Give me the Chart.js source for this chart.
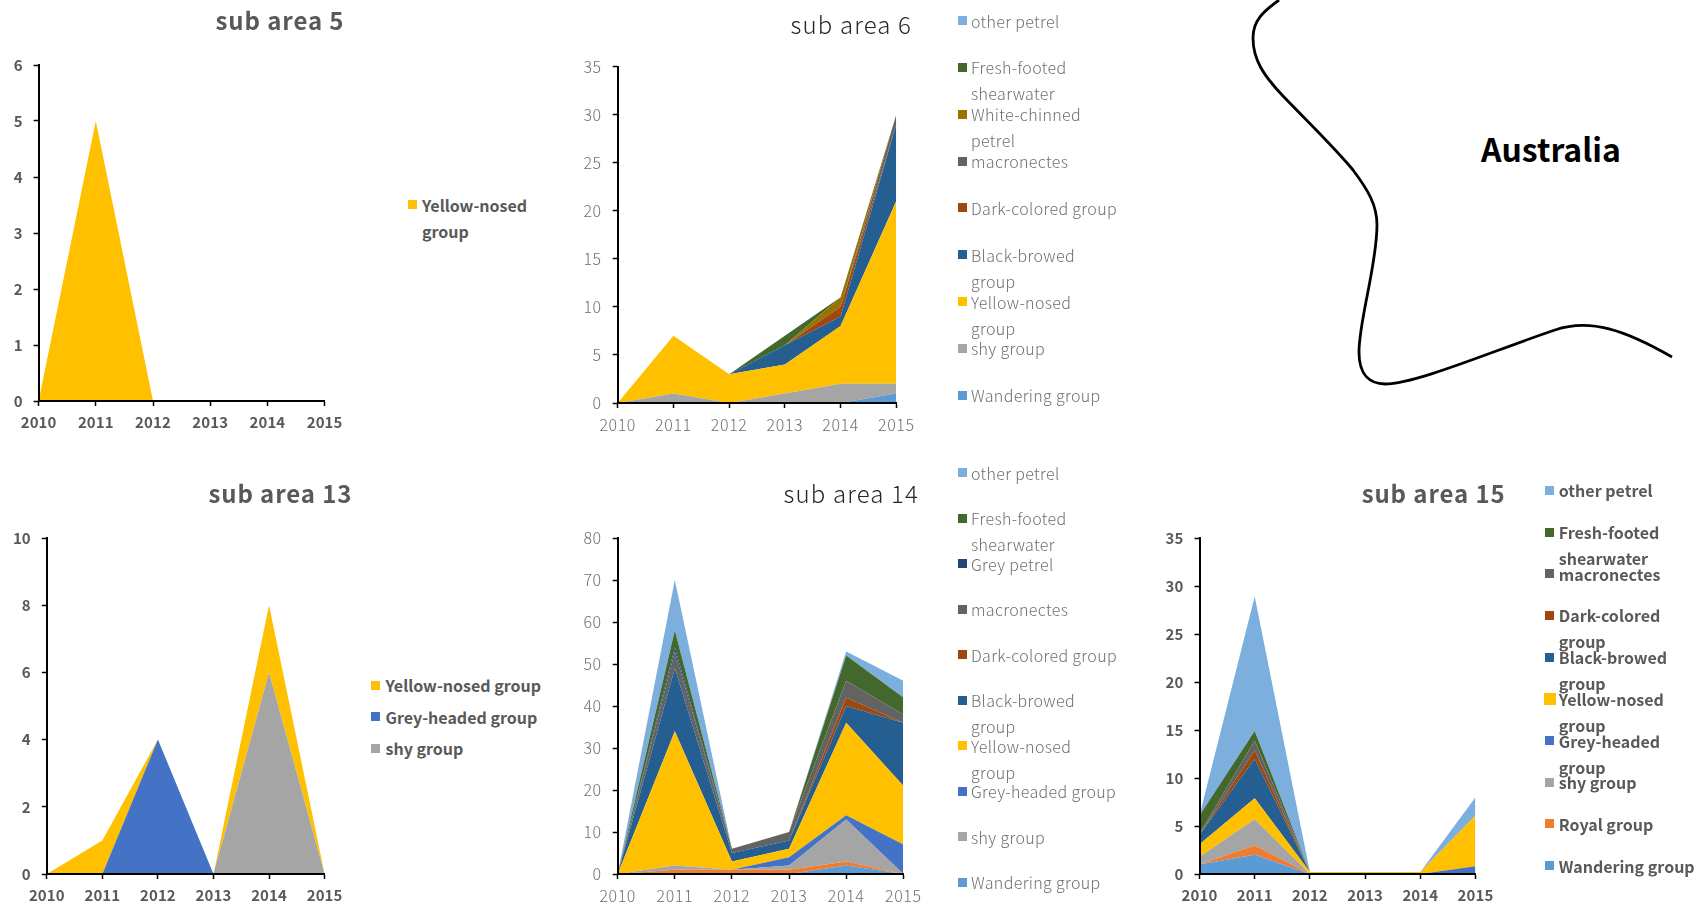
<!DOCTYPE html>
<html>
<head>
<meta charset="utf-8">
<title>Seabird bycatch by sub area</title>
<script src="https://cdn.jsdelivr.net/npm/chart.js@4"></script>
<style>
    html, body { margin: 0; background: #fff; }
    #page { position: relative; width: 1696px; height: 909px; overflow: hidden; }
    #page canvas { position: absolute; }
    .swatch { position: absolute; }
    .legend-text { position: absolute; white-space: nowrap; }
    .chart-title { position: absolute; white-space: nowrap; transform: translate(-50%, -50%); }
    #coast { position: absolute; left: 0; top: 0; }
    #place {
        position: absolute; left: 1481px; top: 121px;
        font: 700 32px/54px "Noto Sans CJK JP"; color: #000;
    }
</style>
</head>
<body>
<div id="page">
    <svg id="coast" width="1696" height="909">
        <path d="M1279,0 C1264,11 1253,20 1253,38 C1253,60 1264,76 1283,96 C1308,122 1335,148 1353,170 C1368,190 1377,205 1377,225 C1377,265 1359,320 1359,352 C1359,375 1370,384 1385,384 C1416,384 1495,350 1555,330 C1590,318 1625,330 1672,357"
              fill="none" stroke="#000" stroke-width="2.8"/>
    </svg>
    <div id="place">Australia</div>
</div>
<script>
    const years = ['2010', '2011', '2012', '2013', '2014', '2015'];

    // sub area 5
    const a5Yellow = [0, 5, 0, 0, 0, 0];

    // sub area 6
    const a6Wandering = [0, 0, 0, 0, 0, 1];
    const a6Shy = [0, 1, 0, 1, 2, 1];
    const a6Yellow = [0, 6, 3, 3, 6, 19];
    const a6Black = [0, 0, 0, 2, 1, 8];
    const a6Dark = [0, 0, 0, 0, 1, 0];
    const a6Macro = [0, 0, 0, 0, 0, 1];
    const a6White = [0, 0, 0, 0, 1, 0];
    const a6Fresh = [0, 0, 0, 1, 0, 0];
    const a6Other = [0, 0, 0, 0, 0, 0];

    // sub area 13
    const a13Shy = [0, 0, 0, 0, 6, 0];
    const a13Grey = [0, 0, 4, 0, 0, 0];
    const a13Yellow = [0, 1, 0, 0, 2, 0];

    // sub area 14
    const a14Wandering = [0, 0, 0, 0, 2, 0];
    const a14Royal = [0, 1, 1, 1, 1, 0];
    const a14Shy = [0, 1, 0, 1, 10, 0];
    const a14Grey = [0, 0, 0, 2, 1, 7];
    const a14Yellow = [0, 32, 2, 2, 22, 14];
    const a14Black = [0, 15, 2, 2, 4, 15];
    const a14Dark = [0, 0, 0, 0, 2, 0];
    const a14Macro = [0, 4, 1, 2, 4, 2];
    const a14GreyPetrel = [0, 1, 0, 0, 0, 0];
    const a14Fresh = [0, 4, 0, 0, 6, 4];
    const a14Other = [0, 12, 0, 0, 1, 4];

    // sub area 15
    const a15Wandering = [1, 2, 0, 0, 0, 0];
    const a15Royal = [0, 1, 0, 0, 0, 0];
    const a15Shy = [0.8, 2.7, 0, 0, 0, 0];
    const a15Grey = [0, 0, 0, 0, 0, 0.8];
    const a15Yellow = [1.3, 2.2, 0.2, 0.2, 0.2, 5.3];
    const a15Black = [1, 4.1, 0, 0, 0, 0];
    const a15Dark = [0, 0.9, 0, 0, 0, 0];
    const a15Macro = [0.1, 1, 0, 0, 0, 0];
    const a15Fresh = [1.9, 1, 0, 0, 0, 0];
    const a15Other = [0, 14, 0, 0, 0, 1.9];

    const colors = {
        'Wandering group': '#5B9BD5',
        'Royal group': '#ED7D31',
        'shy group': '#A5A5A5',
        'Grey-headed group': '#4472C4',
        'Yellow-nosed group': '#FFC000',
        'Black-browed group': '#255E91',
        'Dark-colored group': '#9E480E',
        'macronectes': '#636363',
        'White-chinned petrel': '#997300',
        'Grey petrel': '#264478',
        'Fresh-footed shearwater': '#43682B',
        'other petrel': '#7CAFDD'
    };

    const FONT = '"Noto Sans CJK JP"';
    const strong = {
        weight: '700', titleWeight: '700', tickSize: 15,
        tick: '#595959', title: '#595959', legend: '#595959',
        tickSpacing: '0.1px', legendSpacing: '0px', titleSpacing: '0.9px'
    };
    const thin = {
        weight: '300', titleWeight: '300', tickSize: 16,
        tick: '#6f6f6f', title: '#262626', legend: '#6f6f6f',
        tickSpacing: '0.6px', legendSpacing: '0.35px', titleSpacing: '1.15px'
    };

    const panels = [
        {
            title: 'sub area 5', look: strong, yMax: 6, yStep: 1,
            box: { left: 0, top: 0, right: 360, bottom: 445, plotLeft: 38.6, plotRight: 324.6, plotTop: 65, plotBottom: 401, titleX: 280, titleY: 19 },
            legend: { swatchX: 408, textX: 422, firstY: 204.5, gap: 32 },
            legendNames: ['Yellow-nosed group'],
            series: [['Yellow-nosed group', a5Yellow]]
        },
        {
            title: 'sub area 6', look: thin, yMax: 35, yStep: 5,
            box: { left: 570, top: 0, right: 930, bottom: 445, plotLeft: 617.7, plotRight: 896.3, plotTop: 66.5, plotBottom: 403, titleX: 851.3, titleY: 23 },
            legend: { swatchX: 957.7, textX: 971, firstY: 20.5, gap: 46.85 },
            legendNames: ['other petrel', 'Fresh-footed shearwater', 'White-chinned petrel', 'macronectes', 'Dark-colored group', 'Black-browed group', 'Yellow-nosed group', 'shy group', 'Wandering group'],
            series: [
                ['Wandering group', a6Wandering], ['shy group', a6Shy], ['Yellow-nosed group', a6Yellow],
                ['Black-browed group', a6Black], ['Dark-colored group', a6Dark], ['macronectes', a6Macro],
                ['White-chinned petrel', a6White], ['Fresh-footed shearwater', a6Fresh], ['other petrel', a6Other]
            ]
        },
        {
            title: 'sub area 13', look: strong, yMax: 10, yStep: 2,
            box: { left: 0, top: 450, right: 360, bottom: 909, plotLeft: 46.8, plotRight: 324.6, plotTop: 538, plotBottom: 874, titleX: 280.4, titleY: 492 },
            legend: { swatchX: 371.4, textX: 385.5, firstY: 685.3, gap: 31.5, single: true },
            legendNames: ['Yellow-nosed group', 'Grey-headed group', 'shy group'],
            series: [['shy group', a13Shy], ['Grey-headed group', a13Grey], ['Yellow-nosed group', a13Yellow]]
        },
        {
            title: 'sub area 14', look: thin, yMax: 80, yStep: 10,
            box: { left: 570, top: 450, right: 935, bottom: 909, plotLeft: 617.7, plotRight: 903.3, plotTop: 538, plotBottom: 874, titleX: 851.3, titleY: 492 },
            legend: { swatchX: 957.7, textX: 971, firstY: 472.5, gap: 45.5 },
            legendNames: ['other petrel', 'Fresh-footed shearwater', 'Grey petrel', 'macronectes', 'Dark-colored group', 'Black-browed group', 'Yellow-nosed group', 'Grey-headed group', 'shy group', 'Wandering group'],
            series: [
                ['Wandering group', a14Wandering], ['Royal group', a14Royal], ['shy group', a14Shy],
                ['Grey-headed group', a14Grey], ['Yellow-nosed group', a14Yellow], ['Black-browed group', a14Black],
                ['Dark-colored group', a14Dark], ['macronectes', a14Macro], ['Grey petrel', a14GreyPetrel],
                ['Fresh-footed shearwater', a14Fresh], ['other petrel', a14Other]
            ]
        },
        {
            title: 'sub area 15', look: strong, yMax: 35, yStep: 5,
            box: { left: 1150, top: 450, right: 1510, bottom: 909, plotLeft: 1199.5, plotRight: 1475.5, plotTop: 538, plotBottom: 874, titleX: 1433.6, titleY: 492 },
            legend: { swatchX: 1545, textX: 1558.8, firstY: 490.3, gap: 41.7, bigYellow: true, narrow: true },
            legendNames: ['other petrel', 'Fresh-footed shearwater', 'macronectes', 'Dark-colored group', 'Black-browed group', 'Yellow-nosed group', 'Grey-headed group', 'shy group', 'Royal group', 'Wandering group'],
            series: [
                ['Wandering group', a15Wandering], ['Royal group', a15Royal], ['shy group', a15Shy],
                ['Grey-headed group', a15Grey], ['Yellow-nosed group', a15Yellow], ['Black-browed group', a15Black],
                ['Dark-colored group', a15Dark], ['macronectes', a15Macro], ['Fresh-footed shearwater', a15Fresh],
                ['other petrel', a15Other]
            ]
        }
    ];

    const page = document.getElementById('page');
    const TITLE_SIZE = 24;
    const LEGEND_SIZE = 16;
    const LINE_H = 26;

    // Labels that wrap on two lines in the original legends
    const wrapped = {
        'Fresh-footed shearwater': ['Fresh-footed', 'shearwater'],
        'White-chinned petrel': ['White-chinned', 'petrel'],
        'Black-browed group': ['Black-browed', 'group'],
        'Yellow-nosed group': ['Yellow-nosed', 'group']
    };

    function addTitle(panel) {
        const look = panel.look;
        const title = document.createElement('div');
        title.className = 'chart-title';
        title.textContent = panel.title;
        title.style.cssText = `left:${panel.box.titleX}px;top:${panel.box.titleY}px;font:${look.titleWeight} ${TITLE_SIZE}px ${FONT};color:${look.title};letter-spacing:${look.titleSpacing};`;
        page.appendChild(title);
    }

    function addLegend(panel) {
        const l = panel.legend;
        const look = panel.look;
        panel.legendNames.forEach((name, i) => {
            const y = l.firstY + i * l.gap;
            const big = l.bigYellow && name === 'Yellow-nosed group';
            const side = big ? 12 : 9;

            const swatch = document.createElement('div');
            swatch.className = 'swatch';
            swatch.style.cssText = `left:${l.swatchX - (big ? 1.5 : 0)}px;top:${y - side / 2}px;width:${side}px;height:${side}px;background:${colors[name]};`;
            page.appendChild(swatch);

            let lines = l.single ? [name] : (wrapped[name] || [name]);
            if (l.narrow && (name === 'Dark-colored group' || name === 'Grey-headed group')) {
                lines = name.split(' ');
            }
            lines.forEach((line, k) => {
                const text = document.createElement('div');
                text.className = 'legend-text';
                text.textContent = line;
                text.style.cssText = `left:${l.textX}px;top:${y + k * LINE_H - 13}px;font:${look.weight} ${LEGEND_SIZE}px/26px ${FONT};color:${look.legend};letter-spacing:${look.legendSpacing};`;
                page.appendChild(text);
            });
        });
    }

    function addChart(panel) {
        const b = panel.box;
        const look = panel.look;
        const canvas = document.createElement('canvas');
        canvas.width = b.right - b.left;
        canvas.height = b.bottom - b.top;
        canvas.style.left = b.left + 'px';
        canvas.style.top = b.top + 'px';
        page.appendChild(canvas);

        const tickFont = { family: FONT, size: look.tickSize, weight: look.weight };

        new Chart(canvas.getContext('2d'), {
            type: 'line',
            data: {
                labels: years,
                datasets: panel.series.map(([name, values], i) => ({
                    label: name,
                    data: values,
                    backgroundColor: colors[name],
                    borderWidth: 0,
                    pointRadius: 0,
                    tension: 0,
                    fill: i === 0 ? 'origin' : '-1'
                }))
            },
            options: {
                responsive: false,
                animation: false,
                layout: { padding: { top: b.plotTop - b.top, right: b.right - b.plotRight } },
                plugins: {
                    legend: { display: false },
                    tooltip: { enabled: false },
                    title: { display: false }
                },
                scales: {
                    x: {
                        type: 'category',
                        offset: false,
                        afterFit: scale => { scale.height = b.bottom - b.plotBottom; },
                        grid: { drawOnChartArea: false, tickLength: 5, tickColor: '#000', tickWidth: 1.5, z: 1 },
                        border: { color: '#000', width: 2, z: 1 },
                        ticks: { color: look.tick, font: tickFont, padding: 7, autoSkip: false, maxRotation: 0, z: 1 }
                    },
                    y: {
                        stacked: true,
                        min: 0,
                        max: panel.yMax,
                        afterFit: scale => { scale.width = b.plotLeft - b.left; },
                        grid: { drawOnChartArea: false, tickLength: 5, tickColor: '#000', tickWidth: 1.5, z: 1 },
                        border: { color: '#000', width: 2, z: 1 },
                        ticks: { color: look.tick, font: tickFont, stepSize: panel.yStep, padding: 11, z: 1 }
                    }
                }
            },
            plugins: [{
                id: 'spacing',
                beforeDraw: chart => { chart.ctx.letterSpacing = look.tickSpacing; }
            }]
        });
    }

    panels.forEach(panel => {
        addChart(panel);
        addTitle(panel);
        addLegend(panel);
    });
</script>
</body>
</html>
